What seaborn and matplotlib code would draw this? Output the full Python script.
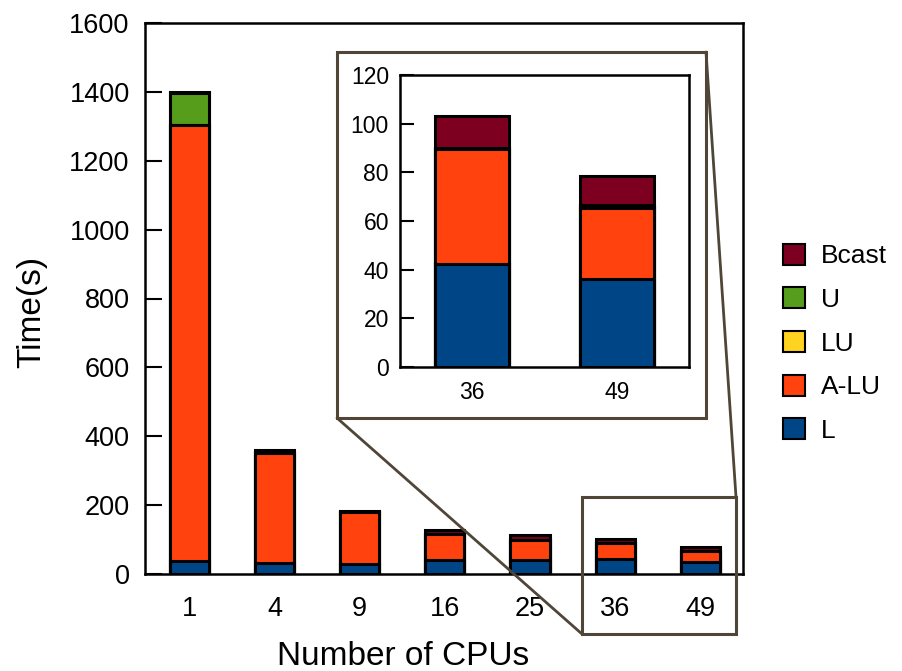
import numpy as np
import pandas as pd
import matplotlib
matplotlib.use("Agg")
import matplotlib.pyplot as plt
import seaborn as sns
from matplotlib.patches import Rectangle, Patch
from matplotlib.lines import Line2D

# ---- data ----
cpus = ["1", "4", "9", "16", "25", "36", "49"]
series_names = ["L", "A-LU", "LU", "U", "Bcast"]
L_vals = [38, 32, 30, 40, 40, 42.5, 36]
ALU_vals = [1265, 318, 150, 75, 58, 47, 29.5]
LU_vals = [0.5, 0.5, 0.5, 0.5, 0.5, 0.3, 0.5]
U_vals = [94, 1, 0.5, 1, 1, 0.4, 0.5]
Bcast_vals = [2, 10, 1, 11, 13, 12.8, 12]
inset_cpus = ["36", "49"]
main_yticks = [0, 200, 400, 600, 800, 1000, 1200, 1400, 1600]
inset_yticks = [0, 20, 40, 60, 80, 100, 120]

colors = {"L": "#004586", "A-LU": "#ff420e", "LU": "#ffd320",
          "U": "#579d1c", "Bcast": "#7e0021"}

values = {"L": L_vals, "A-LU": ALU_vals, "LU": LU_vals, "U": U_vals, "Bcast": Bcast_vals}

sns.set_theme(style="white")
plt.rcParams["font.family"] = ["Liberation Sans", "DejaVu Sans"]
plt.rcParams["text.color"] = "black"
plt.rcParams["axes.labelcolor"] = "black"
plt.rcParams["xtick.color"] = "black"
plt.rcParams["ytick.color"] = "black"

df = pd.DataFrame({"cpus": cpus, **values})
cum = df[series_names].cumsum(axis=1)
for s in series_names:
    df["cum_" + s] = cum[s]

fig = plt.figure(figsize=(9.02, 6.71), dpi=100)
W, H = 902, 671

def fx(px):
    return px / W

def fy(py):
    return 1 - py / H

ax = fig.add_axes([fx(145), fy(574), fx(743) - fx(145), fy(23) - fy(574)])

def draw_stack(axis, data, order, width, lw):
    for s in reversed(series_names):
        sns.barplot(data=data, x="cpus", y="cum_" + s, order=order, color=colors[s],
                    saturation=1, width=width, edgecolor="black", linewidth=lw,
                    errorbar=None, ax=axis)

draw_stack(ax, df, cpus, 0.46, 2.2)
ax.set_xlim(-0.52, 6.5)
ax.set_ylim(0, 1600)
ax.set_yticks(main_yticks)
ax.tick_params(axis="y", direction="in", length=12, width=1.5, labelsize=19.5, pad=11,
               left=True, colors="black")
ax.tick_params(axis="x", length=0, labelsize=19.5, pad=16, colors="black")
for sp in ax.spines.values():
    sp.set_linewidth(1.8)
    sp.set_color("black")
ax.set_xlabel("Number of CPUs", fontsize=24, va="top")
ax.set_ylabel("Time(s)", fontsize=24)
ax.xaxis.set_label_coords((403 - 145) / 598, (574 - 641) / 551)
ax.yaxis.set_label_coords((47 - 145) / 598, (574 - 312) / 551)
ax.grid(False)

# ---- inset ----
frame_col = "#4f4637"
inset_df = df[df["cpus"].isin(inset_cpus)]
axi = fig.add_axes([fx(400), fy(367), fx(689) - fx(400), fy(75) - fy(367)], zorder=5)
draw_stack(axi, inset_df, inset_cpus, 0.51, 2.2)
axi.set_xlim(-0.5, 1.5)
axi.set_ylim(0, 120)
axi.set_yticks(inset_yticks)
axi.tick_params(axis="y", direction="in", length=10, width=1.5, labelsize=16.5, pad=8,
                left=True, colors="black")
axi.tick_params(axis="x", length=0, labelsize=16.5, pad=10, colors="black")
axi.set_xlabel("")
axi.set_ylabel("")
for sp in axi.spines.values():
    sp.set_linewidth(1.8)
    sp.set_color("black")
axi.grid(False)

# frame round inset, zoom rectangle and connectors
fig.add_artist(Rectangle((fx(337), fy(418)), fx(706) - fx(337), fy(52) - fy(418),
                         transform=fig.transFigure, fill=False, edgecolor=frame_col,
                         linewidth=2.2, zorder=3))
fig.add_artist(Rectangle((fx(582), fy(634)), fx(736) - fx(582), fy(497) - fy(634),
                         transform=fig.transFigure, fill=False, edgecolor=frame_col,
                         linewidth=2.2, zorder=3))
fig.add_artist(Line2D([fx(337), fx(582)], [fy(418), fy(634)], transform=fig.transFigure,
                      color=frame_col, linewidth=2.0, zorder=3))
fig.add_artist(Line2D([fx(706), fx(736)], [fy(52), fy(497)], transform=fig.transFigure,
                      color=frame_col, linewidth=2.0, zorder=3))

# ---- legend ----
handles = [Patch(facecolor=colors[s], edgecolor="black", linewidth=1.5, label=s)
           for s in reversed(series_names)]
fig.legend(handles=handles, loc="upper left", bbox_to_anchor=(fx(772), fy(233)),
           frameon=False, fontsize=19, handlelength=0.85, handleheight=0.85,
           labelspacing=0.72, handletextpad=0.6, borderaxespad=0)

fig.savefig("out.png", dpi=100)
